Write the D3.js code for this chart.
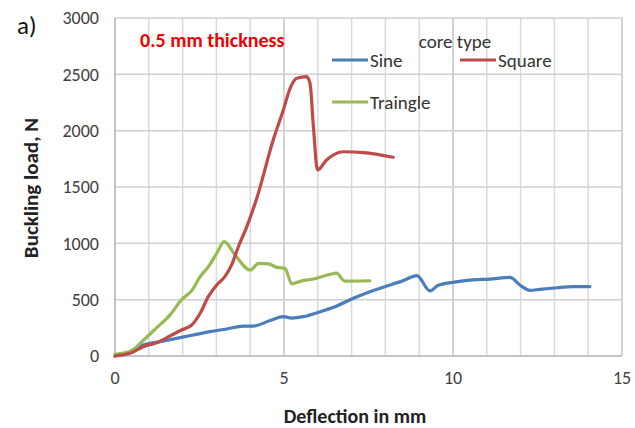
<!DOCTYPE html>
<html>
<head>
<meta charset="utf-8">
<script src="https://cdn.jsdelivr.net/npm/d3@7/dist/d3.min.js"></script>
<style>
  body { margin: 0; background: #fff; }
  text { font-family: Carlito, Lato, "Open Sans", sans-serif; }
</style>
</head>
<body>
<svg id="chart" width="635" height="428"></svg>
<script>
// data (deflection mm, load N)
var sineX = [0, 0.44, 0.84, 1.33, 1.82, 2.32, 2.81, 3.3, 3.8, 4.09, 4.59, 4.98, 5.23, 5.57, 6.07, 6.56, 7.05, 7.54, 8.04, 8.53, 8.93, 9.32, 9.55, 10.0, 10.5, 11.09, 11.69, 11.98, 12.28, 12.57, 13.07, 13.56, 14.05];
var sineY = [0, 38, 98, 127, 157, 186, 216, 240, 266, 266, 315, 349, 337, 349, 393, 444, 512, 571, 621, 669, 713, 578, 625, 654, 674, 683, 698, 630, 582, 592, 606, 615, 615];

var squareX = [0, 0.44, 0.84, 1.23, 1.63, 1.97, 2.27, 2.52, 2.76, 3.01, 3.25, 3.45, 3.65, 3.9, 4.19, 4.68, 4.98, 5.18, 5.38, 5.67, 5.77, 5.87, 5.99, 6.26, 6.75, 7.35, 8.23];
var squareY = [0, 24, 83, 118, 178, 231, 275, 379, 527, 630, 704, 808, 970, 1148, 1395, 1917, 2183, 2376, 2465, 2479, 2420, 2035, 1651, 1740, 1813, 1805, 1764];

var triX = [0, 0.5, 0.84, 1.23, 1.63, 1.97, 2.27, 2.52, 2.77, 3.01, 3.23, 3.55, 4.0, 4.25, 4.54, 4.79, 5.03, 5.23, 5.5, 5.87, 6.36, 6.55, 6.8, 7.54];
var triY = [15, 50, 140, 250, 365, 500, 580, 705, 795, 912, 1015, 897, 763, 823, 817, 787, 778, 640, 665, 683, 725, 735, 665, 668];

var seriesNames = ["Sine", "Square", "Traingle"];
var seriesColors = ["#4a7ebb", "#be4b48", "#98b954"];
var xTicks = [0, 5, 10, 15];
var yTicks = [0, 500, 1000, 1500, 2000, 2500, 3000];

var svg = d3.select("#chart");

var x = d3.scaleLinear().domain([0, 15]).range([115, 622]);
var y = d3.scaleLinear().domain([0, 3000]).range([356, 18]);

// vertical grid every 1 mm
svg.append("g")
  .selectAll("line")
  .data(d3.range(1, 16))
  .enter()
  .append("line")
    .attr("x1", function(d) { return x(d); })
    .attr("x2", function(d) { return x(d); })
    .attr("y1", y(0))
    .attr("y2", y(3000))
    .attr("stroke", function(d) { return d % 5 == 0 ? "#c4c4c4" : "#dadada"; })
    .attr("stroke-width", 1.5);

// horizontal grid
svg.append("g")
  .selectAll("line")
  .data(yTicks.slice(1))
  .enter()
  .append("line")
    .attr("x1", x(0))
    .attr("x2", x(15))
    .attr("y1", function(d) { return y(d); })
    .attr("y2", function(d) { return y(d); })
    .attr("stroke", "#cfcfcf")
    .attr("stroke-width", 1.5);

// axes lines
svg.append("line")
  .attr("x1", x(0)).attr("x2", x(0))
  .attr("y1", y(0)).attr("y2", y(3000))
  .attr("stroke", "#b0b0b0").attr("stroke-width", 1.5);
svg.append("line")
  .attr("x1", x(0)).attr("x2", x(15))
  .attr("y1", y(0)).attr("y2", y(0))
  .attr("stroke", "#b0b0b0").attr("stroke-width", 1.5);

// tick labels
svg.append("g")
  .selectAll("text")
  .data(yTicks)
  .enter()
  .append("text")
    .attr("x", 99)
    .attr("y", function(d) { return y(d); })
    .attr("dy", "0.35em")
    .attr("text-anchor", "end")
    .attr("font-size", 18)
    .attr("fill", "#404040")
    .text(function(d) { return d; });

svg.append("g")
  .selectAll("text")
  .data(xTicks)
  .enter()
  .append("text")
    .attr("x", function(d) { return x(d); })
    .attr("y", 378)
    .attr("dy", "0.35em")
    .attr("text-anchor", "middle")
    .attr("font-size", 18)
    .attr("fill", "#404040")
    .text(function(d) { return d; });

// lines
var line = d3.line()
  .x(function(d) { return x(d[0]); })
  .y(function(d) { return y(d[1]); })
  .curve(d3.curveMonotoneX);

var seriesData = [d3.zip(sineX, sineY), d3.zip(squareX, squareY), d3.zip(triX, triY)];
// draw green first, then blue, then red on top
[0, 2, 1].forEach(function(i) {
  svg.append("path")
    .datum(seriesData[i])
    .attr("d", line)
    .attr("fill", "none")
    .attr("stroke", seriesColors[i])
    .attr("stroke-width", 3.2)
    .attr("stroke-linejoin", "round")
    .attr("stroke-linecap", "round");
});

// titles
svg.append("text")
  .attr("x", 355)
  .attr("y", 416)
  .attr("dy", "0.35em")
  .attr("text-anchor", "middle")
  .attr("font-size", 20)
  .attr("font-weight", "bold")
  .attr("fill", "#222")
  .text("Deflection in mm");

svg.append("text")
  .attr("transform", "translate(31,188) rotate(-90)")
  .attr("dy", "0.35em")
  .attr("text-anchor", "middle")
  .attr("font-size", 21)
  .attr("font-weight", "bold")
  .attr("fill", "#222")
  .text("Buckling load, N");

svg.append("text")
  .attr("x", 17)
  .attr("y", 25)
  .attr("dy", "0.35em")
  .attr("font-size", 25)
  .attr("fill", "#111")
  .text("a)");

svg.append("text")
  .attr("x", 140)
  .attr("y", 40)
  .attr("dy", "0.35em")
  .attr("font-size", 20)
  .attr("font-weight", "bold")
  .attr("fill", "#f00000")
  .text("0.5 mm thickness");

// legend
svg.append("text")
  .attr("x", 455)
  .attr("y", 41)
  .attr("dy", "0.35em")
  .attr("text-anchor", "middle")
  .attr("font-size", 19)
  .attr("fill", "#333")
  .text("core type");

var legendPos = [[332, 60], [460, 60], [332, 102]];
var legend = svg.append("g")
  .selectAll("g")
  .data(seriesNames)
  .enter()
  .append("g")
    .attr("transform", function(d, i) { return "translate(" + legendPos[i][0] + "," + legendPos[i][1] + ")"; });

legend.append("line")
  .attr("x1", 0).attr("x2", 36)
  .attr("stroke", function(d, i) { return seriesColors[i]; })
  .attr("stroke-width", 3);

legend.append("text")
  .attr("x", 38)
  .attr("dy", "0.35em")
  .attr("font-size", 19)
  .attr("fill", "#333")
  .text(function(d) { return d; });
</script>
</body>
</html>
